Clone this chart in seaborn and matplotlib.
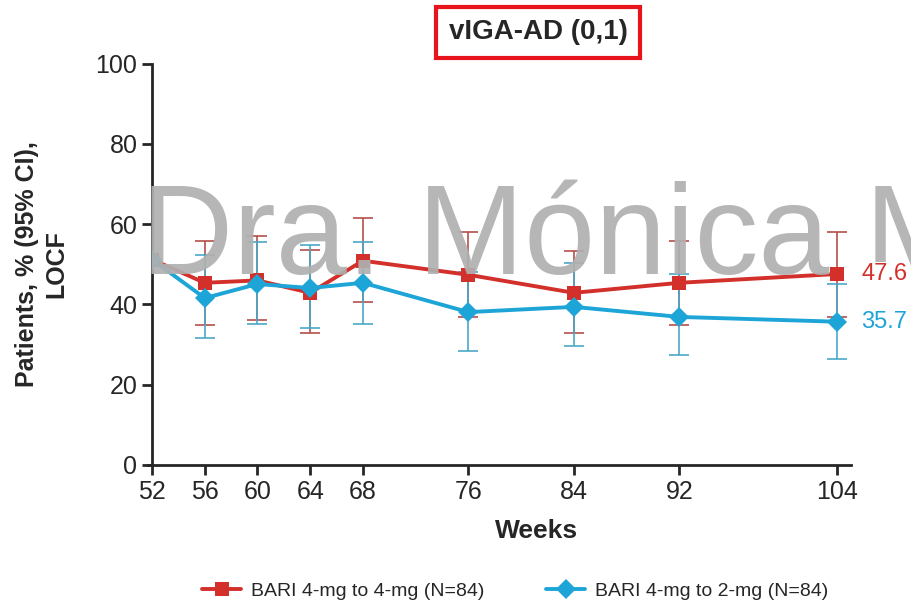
import numpy as np
import pandas as pd
import seaborn as sns
import matplotlib.pyplot as plt

# datos
weeks = [52, 56, 60, 64, 68, 76, 84, 92, 104]
bari_44 = [51.2, 45.4, 46.0, 42.9, 50.9, 47.4, 42.9, 45.4, 47.6]
bari_44_lo = [np.nan, 34.9, 36.2, 32.9, 40.6, 37.0, 32.9, 35.0, 37.0]
bari_44_hi = [np.nan, 55.9, 57.1, 53.6, 61.6, 58.1, 53.4, 55.9, 58.1]
bari_42 = [51.2, 41.6, 45.1, 44.1, 45.4, 38.1, 39.4, 36.9, 35.7]
bari_42_lo = [np.nan, 31.7, 35.2, 34.2, 35.2, 28.4, 29.7, 27.4, 26.4]
bari_42_hi = [np.nan, 52.4, 55.5, 54.9, 55.6, 48.0, 50.4, 47.6, 45.0]
labels = ["BARI 4-mg to 4-mg (N=84)", "BARI 4-mg to 2-mg (N=84)"]
end_labels = ["47.6", "35.7"]
colors = ["#d3302b", "#1ea5d8"]
bar_colors = ["#b4504c", "#4aa8c8"]

sns.set_style("ticks")
plt.rcParams['font.family'] = ['Liberation Sans', 'DejaVu Sans']

df = pd.DataFrame({
    "week": weeks * 2,
    "value": bari_44 + bari_42,
    "group": [labels[0]] * len(weeks) + [labels[1]] * len(weeks),
})

fig = plt.figure(figsize=(9.12, 6.07), dpi=100)
ax = fig.add_axes([0.1667, 0.234, 0.766, 0.661])

# intervalos de confianza
ci = [(bari_44, bari_44_lo, bari_44_hi), (bari_42, bari_42_lo, bari_42_hi)]
for (vals, lo, hi), c in zip(ci, bar_colors):
    vals = np.array(vals)
    yerr = [vals - np.array(lo), np.array(hi) - vals]
    ax.errorbar(weeks, vals, yerr=yerr, fmt="none", ecolor=c, elinewidth=1.4,
                capsize=7, capthick=1.4, alpha=0.85, zorder=2)

sns.lineplot(data=df, x="week", y="value", hue="group", style="group",
             markers=["s", "D"], dashes=False, palette=colors, linewidth=2.8,
             markersize=10, markeredgewidth=0, ax=ax, legend=True, zorder=3)

# marca de agua
ax.text(0.155, 0.603, "Dra. Mónica M", fontsize=92, color="#b0b0b0",
        alpha=0.92, ha="left", va="center", transform=fig.transFigure,
        clip_on=False, zorder=5)

for txt, v, c in zip(end_labels, [bari_44[-1], bari_42[-1]], colors):
    ax.text(105.8, v, txt, color=c, fontsize=17, va="center", ha="left",
            clip_on=False, zorder=6,
            bbox=dict(boxstyle="square,pad=0.05", fc="white", ec="none"))

ax.set_xlim(52, 105)
ax.set_ylim(0, 100)
ax.set_xticks(weeks)
ax.set_yticks([0, 20, 40, 60, 80, 100])
ax.tick_params(labelsize=18, length=7, width=2)
ax.spines["left"].set_linewidth(2)
ax.spines["bottom"].set_linewidth(2)
ax.spines["bottom"].set_bounds(51.7, 105)
sns.despine(ax=ax)

ax.set_xlabel("Weeks", fontsize=19, fontweight="bold")
ax.xaxis.set_label_coords(0.55, -0.135)
ax.set_ylabel("Patients, % (95% CI),\nLOCF", fontsize=18, fontweight="bold",
              linespacing=1.25)
ax.yaxis.set_label_coords(-0.12, 0.5)

leg = ax.legend(loc="center", bbox_to_anchor=(0.52, -0.315), ncol=2,
                frameon=False, fontsize=14, columnspacing=3.2,
                handlelength=2.0, handletextpad=0.5)

fig.text(0.59, 0.947, "vIGA-AD (0,1)", fontsize=20, fontweight="bold",
         ha="center", va="center",
         bbox=dict(boxstyle="square,pad=0.45", fc="white", ec="#e8141c", lw=3))

plt.savefig("out.png", dpi=100)
